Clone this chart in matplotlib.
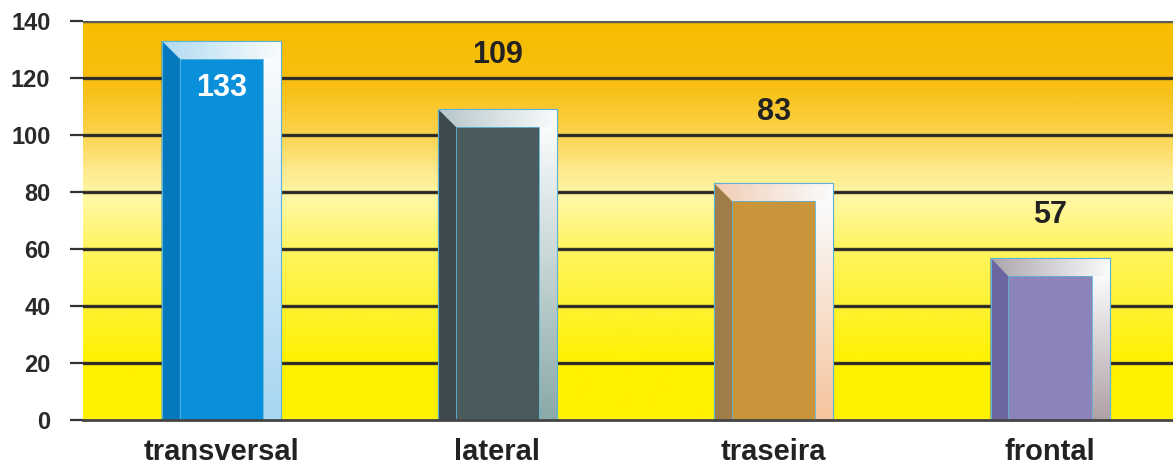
import numpy as np
import matplotlib
matplotlib.use('Agg')
import matplotlib.pyplot as plt
from matplotlib.colors import LinearSegmentedColormap, to_rgb
from matplotlib.patches import Polygon, Rectangle

# data
categories = ['transversal', 'lateral', 'traseira', 'frontal']
values = [133, 109, 83, 57]
y_ticks = [0, 20, 40, 60, 80, 100, 120, 140]

# colours per bar: front face, left side, right side (bottom tint), top bevel tint
face_colors = ['#0A90DA', '#4A5B5D', '#C9953A', '#8A84B8']
left_colors = ['#0678BE', '#3C4A4D', '#A07C4A', '#6C66A0']
right_colors = ['#A6D6F2', '#8AA9A8', '#F6C49C', '#B0A0A6']
top_colors = ['#B0DAF0', '#B5C6CA', '#F1CDB5', '#ADA4AC']
label_colors = ['white', '#222222', '#222222', '#222222']
label_offsets = [-16.5, 19, 25, 15]

plt.rcParams['font.family'] = ['Liberation Sans', 'DejaVu Sans']
plt.rcParams['font.weight'] = 'bold'

fig = plt.figure(figsize=(11.73, 4.65), dpi=100)
ax = fig.add_axes([0.0708, 0.0968, 0.9292, 0.858])

x_max = 3.445
y_max = 140

# background: yellow at the bottom fading to orange at the top
bg_stops = [(0, '#FFF200'), (20, '#FFF200'), (40, '#FFF232'), (60, '#FFF560'),
            (78, '#FFF8A6'), (88, '#FEE98E'), (100, '#FCD450'), (118, '#F8BF12'),
            (140, '#F6BD00')]
bg_cmap = LinearSegmentedColormap.from_list(
    'bg', [(v / y_max, c) for v, c in bg_stops])
grad = np.linspace(0, 1, 400).reshape(-1, 1)
ax.imshow(grad, extent=[-0.5, x_max, 0, y_max], origin='lower', aspect='auto',
          cmap=bg_cmap, zorder=0)

# grid lines
for t in y_ticks[1:]:
    col = '#555555' if t == y_max else '#262626'
    ax.axhline(t, color='#8a7a3a', lw=3.4, alpha=0.35, zorder=1)
    ax.axhline(t, color=col, lw=2.0, zorder=1)

x = np.arange(len(categories))
bar_w = 0.431
bars = ax.bar(x, values, width=bar_w, color=face_colors, zorder=2,
              edgecolor='#5EB4D8', linewidth=0.8)

bw = 0.065   # bevel width in x units
bh = 6.3     # bevel height in y units


def grad_fill(poly, c0, c1, horizontal, ext):
    cmap = LinearSegmentedColormap.from_list('g', [to_rgb(c0), to_rgb(c1)])
    g = np.linspace(0, 1, 256)
    arr = g.reshape(1, -1) if horizontal else g.reshape(-1, 1)
    im = ax.imshow(arr, extent=ext, origin='lower', aspect='auto', cmap=cmap,
                   zorder=3)
    im.set_clip_path(poly)


for i, b in enumerate(bars):
    x0 = b.get_x()
    x1 = x0 + b.get_width()
    top = b.get_height()

    # left dark side with mitred corner
    left = Polygon([(x0, 0), (x0, top), (x0 + bw, top - bh), (x0 + bw, 0)],
                   closed=True, facecolor=left_colors[i], edgecolor='none',
                   zorder=3)
    ax.add_patch(left)

    # top bevel: tint on the left, white on the right
    top_poly = Polygon([(x0, top), (x1, top), (x1, top - bh), (x0 + bw, top - bh)],
                       closed=True, facecolor='none', edgecolor='none',
                       transform=ax.transData)
    ax.add_patch(top_poly)
    grad_fill(top_poly, top_colors[i], '#FAFCFD', True,
              [x0, x1, top - bh, top])

    # right side: white at the top, tinted at the bottom
    right_poly = Polygon([(x1 - bw, 0), (x1, 0), (x1, top - bh), (x1 - bw, top - bh)],
                         closed=True, facecolor='none', edgecolor='none',
                         transform=ax.transData)
    ax.add_patch(right_poly)
    grad_fill(right_poly, right_colors[i], '#FAFCFD', False,
              [x1 - bw, x1, 0, top - bh])

    # outlines
    ax.add_patch(Rectangle((x0, 0), x1 - x0, top, fill=False,
                           edgecolor='#5EB4D8', lw=0.8, zorder=4))
    ax.add_patch(Rectangle((x0 + bw, 0), x1 - x0 - 2 * bw, top - bh, fill=False,
                           edgecolor='#5EB4D8', lw=0.6, zorder=4))

    ax.text(x[i], values[i] + label_offsets[i], str(values[i]),
            ha='center', va='center', fontsize=22, fontweight='bold',
            color=label_colors[i], zorder=5)

ax.set_xlim(-0.5, x_max)
ax.set_ylim(0, y_max)
ax.set_yticks(y_ticks)
ax.set_xticks(x)
ax.set_xticklabels(categories, fontsize=21, fontweight='bold', color='#222222')
ax.tick_params(axis='x', length=0, pad=13)
ax.tick_params(axis='y', length=9.5, width=1.6, color='#333333', pad=14,
               labelsize=17, labelcolor='#2a2a2a')
for lbl in ax.get_yticklabels():
    lbl.set_fontweight('bold')

for side in ['top', 'right', 'left']:
    ax.spines[side].set_visible(False)
ax.spines['bottom'].set_color('#444444')
ax.spines['bottom'].set_linewidth(2)
ax.spines['bottom'].set_zorder(6)

fig.savefig('out.png', dpi=100)
